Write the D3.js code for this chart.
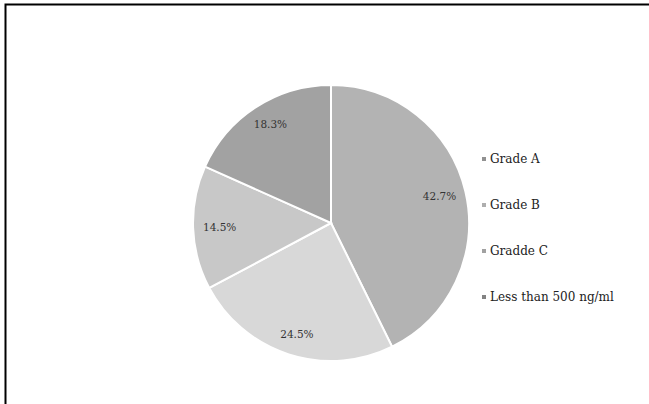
<!DOCTYPE html>
<html>
<head>
<meta charset="utf-8">
<script src="https://cdn.jsdelivr.net/npm/d3@7"></script>
<style>
  body { margin: 0; background: #fff; }
  text { font-family: "DejaVu Serif", "Liberation Serif", serif; }
</style>
</head>
<body>
<svg id="chart"></svg>
<script>
// data
const categories = ['Grade A', 'Grade B', 'Gradde C', 'Less than 500 ng/ml']
const shares = [42.7, 24.5, 14.5, 18.3]
const colours = ['#b3b3b3', '#d8d8d8', '#c8c8c8', '#a2a2a2']

const fullWidth = 649
const fullHeight = 404

const svg = d3.select('svg#chart')
    .attr('width', fullWidth)
    .attr('height', fullHeight)

svg.append('rect')
    .attr('width', fullWidth)
    .attr('height', fullHeight)
    .attr('fill', '#fff')

// frame: only top and left edges show in the crop
svg.append('path')
    .attr('d', 'M5.5,' + fullHeight + 'V4.5H' + fullWidth)
    .attr('fill', 'none')
    .attr('stroke', '#000')
    .attr('stroke-width', 2)

const cx = 331, cy = 223, radius = 138

const pie = d3.pie().sort(null).value(d => d.value)
const arcs = pie(categories.map((c, i) => ({name: c, value: shares[i]})))

const arc = d3.arc().innerRadius(0).outerRadius(radius)
const labelArc = d3.arc().innerRadius(radius * 0.85).outerRadius(radius * 0.85)

const colour = d3.scaleOrdinal().domain(categories).range(colours)

const g = svg.append('g').attr('transform', `translate(${cx},${cy})`)

g.selectAll('path.slice')
    .data(arcs)
    .join('path')
    .attr('class', 'slice')
    .attr('d', arc)
    .attr('fill', d => colour(d.data.name))
    .attr('stroke', '#fff')
    .attr('stroke-width', 2)

g.selectAll('text.pct')
    .data(arcs)
    .join('text')
    .attr('class', 'pct')
    .attr('transform', d => {
        let [x, y] = labelArc.centroid(d)
        return `translate(${x * 0.95},${y})`
    })
    .attr('text-anchor', 'middle')
    .attr('dy', '0.35em')
    .attr('font-size', 10.5)
    .attr('fill', '#333')
    .text(d => d.data.value.toFixed(1) + '%')

// legend
const legendY = d3.scalePoint().domain(categories).range([159, 297])

const legend = svg.append('g')
    .selectAll('g')
    .data(categories)
    .join('g')
    .attr('transform', d => `translate(482,${legendY(d)})`)

legend.append('rect')
    .attr('x', 0)
    .attr('y', -2)
    .attr('width', 4)
    .attr('height', 4)
    .attr('fill', d => d3.color(colour(d)).darker(0.6))

legend.append('text')
    .attr('x', 8)
    .attr('dy', '0.35em')
    .attr('font-size', 12)
    .attr('fill', '#222')
    .text(d => d)
</script>
</body>
</html>
